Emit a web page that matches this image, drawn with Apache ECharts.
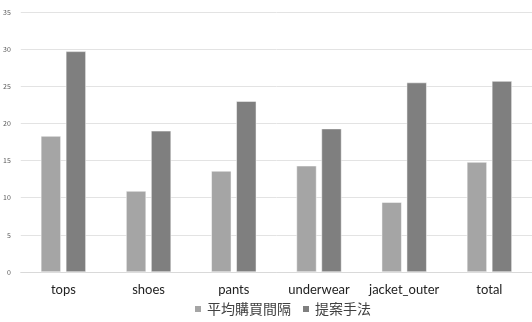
<!DOCTYPE html>
<html>
<head>
<meta charset="utf-8">
<script src="https://cdn.jsdelivr.net/npm/echarts@6/dist/echarts.min.js"></script>
<style>
  html, body { margin: 0; padding: 0; background: #fff; }
  #chart { width: 532px; height: 322px; }
</style>
</head>
<body>
<div id="chart"></div>
<script>
const categories = ['tops', 'shoes', 'pants', 'underwear', 'jacket_outer', 'total']
const seriesNames = ['平均購買間隔', '提案手法']
const avgInterval = [18.3, 10.9, 13.6, 14.3, 9.4, 14.8]
const proposed = [29.7, 19.0, 23.0, 19.3, 25.5, 25.7]

const chart = echarts.init(document.getElementById('chart'))

chart.setOption({
  animation: false,
  textStyle: { fontFamily: '"Noto Sans CJK TC", "Open Sans", sans-serif' },
  grid: {
    left: 20,
    top: 12,
    width: 518,
    height: 260
  },
  legend: {
    bottom: 1,
    left: 188,
    itemWidth: 8,
    itemHeight: 8,
    itemGap: 10,
    icon: 'rect',
    textStyle: { fontSize: 14, color: '#404040' },
    data: seriesNames
  },
  xAxis: {
    type: 'category',
    data: categories,
    axisLine: { lineStyle: { color: '#d9d9d9' } },
    axisTick: { show: false },
    axisLabel: { interval: 0, fontSize: 13, fontFamily: 'Lato', color: '#222', margin: 11 }
  },
  yAxis: {
    type: 'value',
    min: 0,
    max: 35,
    interval: 5,
    axisLine: { show: false },
    axisTick: { show: false },
    axisLabel: { fontSize: 7, color: '#595959', margin: 10 },
    splitLine: { lineStyle: { color: '#e3e3e3' } }
  },
  series: [{
    name: seriesNames[0],
    type: 'bar',
    data: avgInterval,
    barWidth: 20,
    barGap: '25%',
    itemStyle: { color: '#a5a5a5', borderColor: '#fff', borderWidth: 0.5 }
  }, {
    name: seriesNames[1],
    type: 'bar',
    data: proposed,
    barWidth: 20,
    itemStyle: { color: '#7f7f7f', borderColor: '#fff', borderWidth: 0.5 }
  }]
})
</script>
</body>
</html>
